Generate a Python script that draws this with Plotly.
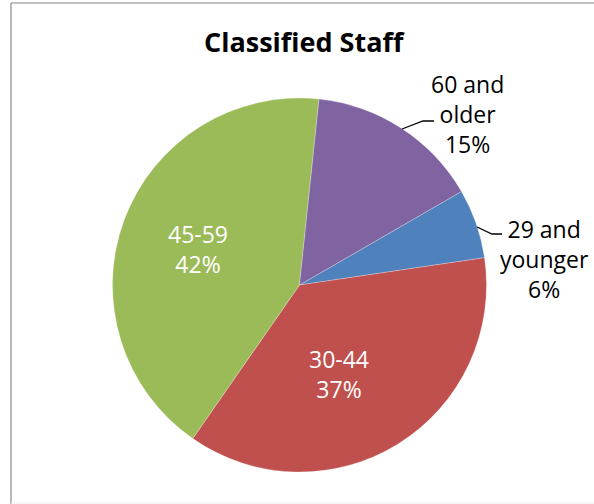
import plotly.graph_objects as go

labels = ["29 and younger", "30-44", "45-59", "60 and older"]
values = [6, 37, 42, 15]
colors = ["#4F81BD", "#C0504D", "#9BBB59", "#8064A2"]
title_text = "Classified Staff"

W, H = 594, 504


def px(x):
    return x / W


def py(y):
    return 1 - y / H


fig = go.Figure()
fig.add_trace(go.Pie(
    labels=labels,
    values=values,
    sort=False,
    direction="clockwise",
    rotation=60,
    marker=dict(colors=colors, line=dict(color="rgba(255,255,255,0.5)", width=0.5)),
    textinfo="none",
    hoverinfo="label+percent",
    showlegend=False,
    domain=dict(x=[px(112), px(487)], y=[py(472), py(98)]),
))

font = "Open Sans, sans-serif"
annots = [
    dict(text="<b>" + title_text + "</b>", x=px(304.5), y=py(41.5), size=27, color="black"),
    dict(text="45-59<br>42%", x=px(198), y=py(249), size=23, color="white"),
    dict(text="30-44<br>37%", x=px(339), y=py(374), size=23, color="white"),
    dict(text="60 and<br>older<br>15%", x=px(467), y=py(114), size=23, color="black"),
    dict(text="29 and<br>younger<br>6%", x=px(544), y=py(259), size=23, color="black"),
]
for a in annots:
    fig.add_annotation(text=a["text"], x=a["x"], y=a["y"], xref="paper", yref="paper",
                       xanchor="center", yanchor="middle", showarrow=False,
                       font=dict(family=font, size=a["size"], color=a["color"]))

def path(pts):
    return "M " + " L ".join(f"{px(x)} {py(y)}" for x, y in pts)

shapes = [
    dict(type="path", path=path([(477, 227), (492, 234), (502, 234)]), xref="paper", yref="paper",
         line=dict(color="black", width=1.3)),
    dict(type="path", path=path([(402, 129), (423, 121), (434, 121)]), xref="paper", yref="paper",
         line=dict(color="black", width=1.3)),
    dict(type="line", x0=px(11), y0=py(504), x1=px(11), y1=py(3), xref="paper", yref="paper",
         line=dict(color="#888888", width=1.2)),
    dict(type="line", x0=px(11), y0=py(3), x1=px(594), y1=py(3), xref="paper", yref="paper",
         line=dict(color="#888888", width=1.2)),
    dict(type="line", x0=px(11), y0=py(503), x1=px(594), y1=py(503), xref="paper", yref="paper",
         line=dict(color="#EEEEEE", width=1)),
]

fig.update_layout(
    width=W, height=H,
    margin=dict(l=0, r=0, t=0, b=0),
    paper_bgcolor="white",
    plot_bgcolor="white",
    shapes=shapes,
)

fig.write_html(
    "out.html",
    config={"displayModeBar": False},
    post_script="document.body.style.margin='0';document.body.style.padding='0';"
                "document.body.style.overflow='hidden';",
)
